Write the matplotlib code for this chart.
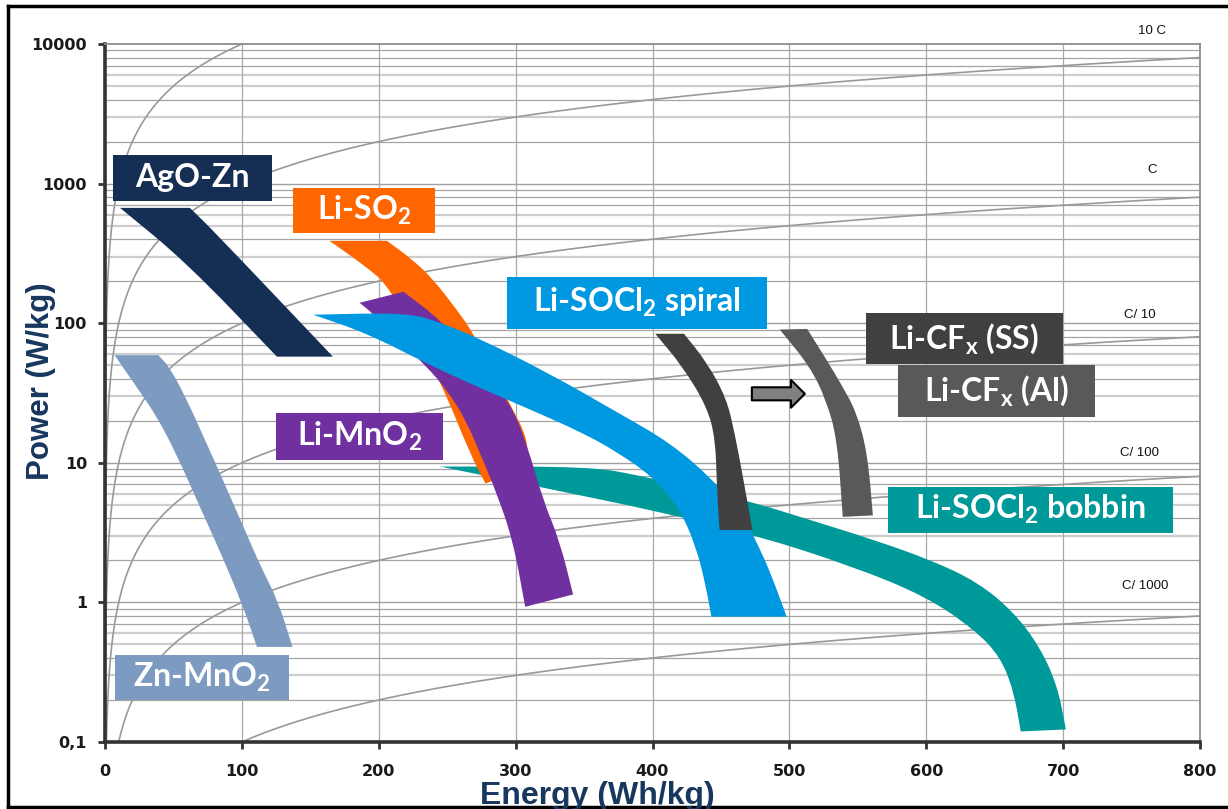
import numpy as np
import matplotlib
matplotlib.use('Agg')
import matplotlib.pyplot as plt
from matplotlib.patches import FancyArrowPatch, ArrowStyle, PathPatch
from matplotlib.path import Path
from matplotlib.lines import Line2D

# ---------------- BAND OUTLINES : (ENERGY Wh/kg, POWER W/kg) ----------------
# each band = upper/right edge and lower/left edge, both from top to bottom
AGOZN_RIGHT = [(62, 670), (80, 451), (166.5, 57.6)]
AGOZN_LEFT = [(11, 670), (59, 275), (125.6, 57.6)]

LISO2_RIGHT = [(206, 389), (225, 284), (240, 205), (257, 125), (269, 85), (283, 46),
               (298, 24), (308, 15.4), (310, 9.4)]
LISO2_LEFT = [(164, 389), (191, 253), (208, 182), (245, 39), (267, 11.4), (278, 7.1)]

LIMNO2_RIGHT = [(218, 168), (245, 106), (270, 55), (296, 27), (308, 13.9), (320, 5.4),
                (332, 2.8), (342, 1.14)]
LIMNO2_LEFT = [(186, 140), (195, 119), (235, 49), (250, 33), (264, 20), (276, 10.5),
               (286, 6.1), (298, 2.8), (307, 0.93)]

SPIRAL_RIGHT = [(152, 115), (221, 119), (245, 101), (272, 79), (324, 44), (375, 22.8),
                (413, 13.9), (444, 7.6), (465, 4.4), (480, 2.27), (490, 1.3), (498, 0.79)]
SPIRAL_LEFT = [(152, 115), (191, 85), (234, 52), (272, 35), (311, 24), (349, 16.4),
               (375, 11.8), (400, 7.95), (419, 4.85), (432, 2.5), (439, 1.3), (443, 0.79)]

BOBBIN_RIGHT = [(245, 9.4), (354, 9.4), (391, 8.1), (435, 6.4), (471, 5.3), (515, 3.9),
                (562, 2.8), (604, 2.0), (638, 1.39), (664, 0.85), (683, 0.48), (696, 0.25),
                (702, 0.123)]
BOBBIN_LEFT = [(245, 9.4), (318, 6.7), (408, 4.4), (477, 3.0), (547, 1.8), (600, 1.1),
               (635, 0.64), (654, 0.41), (664, 0.23), (669, 0.119)]

CFXSS_RIGHT = [(423, 84), (440, 52), (454, 29), (460, 16.4), (466, 8), (473, 3.3)]
CFXSS_LEFT = [(402, 84), (422, 49), (440, 25), (446, 14.6), (447, 6.7), (449, 3.3)]

CFXAL_RIGHT = [(513, 91), (527, 55), (539, 35), (549, 23), (557, 11.8), (561, 4.2)]
CFXAL_LEFT = [(493, 90), (515, 49), (527, 28), (535, 14.6), (539, 4.1)]

ZNMNO2_RIGHT = [(39, 59), (47.5, 48), (60, 28), (72, 15.4), (86, 7.6), (101, 3.5),
                (115, 1.7), (126, 1.05), (137, 0.48)]
ZNMNO2_LEFT = [(7, 59), (23, 35), (38, 21.4), (53, 11.1), (69, 4.9), (86, 2.1),
               (101, 0.93), (111, 0.48)]

# ---------------- CONSTANT C-RATE LINES  P = k * E ----------------
RATES = [100, 10, 1, 0.1, 0.01, 0.001]
RATE_LABELS = ['', '10 C', 'C', 'C/ 10', 'C/ 100', 'C/ 1000']
RATE_LABEL_POS = [None, (765, 12400), (765, 1250), (756, 115), (756, 11.8), (760, 1.3)]

# ---------------- LABEL BOXES ----------------
LABEL_TEXT = ['AgO-Zn', 'Li-SO$_\\mathregular{2}$', 'Li-SOCl$_\\mathregular{2}$ spiral',
              'Li-MnO$_\\mathregular{2}$', 'Li-CF$_\\mathregular{x}$ (SS)',
              'Li-CF$_\\mathregular{x}$ (Al)', 'Li-SOCl$_\\mathregular{2}$ bobbin',
              'Zn-MnO$_\\mathregular{2}$']
LABEL_E = [(5.8, 122), (137.3, 241.1), (293.6, 483.6), (124.9, 246.9),
           (555.9, 699.8), (579.3, 723.2), (572, 780.1), (7.3, 134.4)]
LABEL_P = [(752, 1603), (444, 931), (91.2, 215), (10.5, 22.9),
           (51.2, 118.6), (21.4, 50.4), (3.16, 6.75), (0.201, 0.423)]

C_NAVY = '#142e54'
C_ORANGE = '#ff6600'
C_PURPLE = '#7030a0'
C_BLUE = '#0099e1'
C_TEAL = '#009999'
C_DARK = '#404040'
C_GREY = '#595959'
C_ZN = '#7d9bc1'
LABEL_COLOR = [C_NAVY, C_ORANGE, C_BLUE, C_PURPLE, C_DARK, C_GREY, C_TEAL, C_ZN]

# arrow between the two CFx bands
ARROW_E = (472.6, 511.3)
ARROW_P = 31.2

XTICKS = [0, 100, 200, 300, 400, 500, 600, 700, 800]
YTICKS = [0.1, 1, 10, 100, 1000, 10000]
YTICK_LABELS = ['0,1', '1', '10', '100', '1000', '10000']

# ---------------- FIGURE ----------------
W, H = 1228, 809
fig = plt.figure(figsize=(W / 100, H / 100), dpi=100)
ax = fig.add_axes([105 / W, 1 - 742 / H, 1095 / W, 698 / H])
ax.set_yscale('log')
ax.set_xlim(0, 800)
ax.set_ylim(0.1, 10000)

# grid
LIGHT = [3, 5, 6]
for dec in [0.1, 1, 10, 100, 1000]:
    ax.axhline(dec, color='#a0a0a0', lw=1.0, zorder=0.5)
    for m in range(2, 10):
        if m in LIGHT:
            ax.axhline(dec * m, color='#cdcdcd', lw=1.6, zorder=0.4)
        else:
            ax.axhline(dec * m, color='#a4a4a4', lw=0.9, zorder=0.5)
for x in XTICKS[1:-1]:
    ax.axvline(x, color='#a8a8a8', lw=0.9, zorder=0.5)

# C-rate lines
EE = np.geomspace(1e-4, 800, 4000)
for k, lab, pos in zip(RATES, RATE_LABELS, RATE_LABEL_POS):
    ax.plot(EE, k * EE, color='#999999', lw=1.2, zorder=1)
    if lab:
        ax.text(pos[0], pos[1], lab, fontsize=9.5, family='Liberation Sans',
                ha='center', va='center', clip_on=False, color='#111111')


def smooth_edge(pts):
    # quadratic bezier through mid points, read points act as control points
    verts = [pts[0]]
    codes = [Path.LINETO]
    if len(pts) > 2:
        mid = lambda a, b: ((a[0] + b[0]) / 2, np.sqrt(a[1] * b[1]))
        verts.append(mid(pts[0], pts[1]))
        codes.append(Path.LINETO)
        for i in range(1, len(pts) - 1):
            verts += [pts[i], mid(pts[i], pts[i + 1])]
            codes += [Path.CURVE3, Path.CURVE3]
    verts.append(pts[-1])
    codes.append(Path.LINETO)
    return verts, codes


def band(right, left, color, z):
    v1, c1 = smooth_edge(right)
    v2, c2 = smooth_edge(left[::-1])
    verts = v1 + v2 + [right[0]]
    codes = [Path.MOVETO] + c1[1:] + c2 + [Path.CLOSEPOLY]
    ax.add_patch(PathPatch(Path(verts, codes), fc=color, lw=0, zorder=z))


band(BOBBIN_RIGHT, BOBBIN_LEFT, C_TEAL, 3)
band(LISO2_RIGHT, LISO2_LEFT, C_ORANGE, 3.1)
band(LIMNO2_RIGHT, LIMNO2_LEFT, C_PURPLE, 3.2)
band(SPIRAL_RIGHT, SPIRAL_LEFT, C_BLUE, 3.3)
band(AGOZN_RIGHT, AGOZN_LEFT, C_NAVY, 3.4)
band(CFXSS_RIGHT, CFXSS_LEFT, C_DARK, 3.5)
band(CFXAL_RIGHT, CFXAL_LEFT, C_GREY, 3.5)
band(ZNMNO2_RIGHT, ZNMNO2_LEFT, C_ZN, 3.5)

# label boxes
for txt, (e0, e1), (p0, p1), col in zip(LABEL_TEXT, LABEL_E, LABEL_P, LABEL_COLOR):
    ax.fill([e0, e1, e1, e0], [p0, p0, p1, p1], color=col, lw=0, zorder=6, clip_on=False)
    ax.text((e0 + e1) / 2, np.sqrt(p0 * p1), txt, color='white', fontsize=23,
            family='Lato', weight='bold', ha='center', va='center', zorder=7)

arr = FancyArrowPatch((ARROW_E[0], ARROW_P), (ARROW_E[1], ARROW_P),
                      arrowstyle=ArrowStyle.Simple(head_length=0.5, head_width=1.0, tail_width=0.47),
                      mutation_scale=20, shrinkA=0, shrinkB=0,
                      fc='#808080', ec='black', lw=1.5, zorder=6)
ax.add_patch(arr)

# axes styling
for s in ['left', 'bottom']:
    ax.spines[s].set_color('#333333')
    ax.spines[s].set_linewidth(2.6)
for s in ['top', 'right']:
    ax.spines[s].set_color('#8c8c8c')
    ax.spines[s].set_linewidth(1.3)
ax.set_xticks(XTICKS)
ax.set_xticklabels([str(x) for x in XTICKS], fontsize=11.5, fontweight='bold')
ax.set_yticks(YTICKS)
ax.set_yticklabels(YTICK_LABELS, fontsize=11.5, fontweight='bold')
ax.yaxis.set_minor_locator(matplotlib.ticker.NullLocator())
ax.tick_params(axis='both', which='major', direction='out', length=5, width=2,
               color='#333333', labelcolor='#1a1a1a')
ax.tick_params(axis='x', pad=11)
ax.tick_params(axis='y', pad=8)

fig.text(597 / W, 1 - 796 / H, 'Energy (Wh/kg)', ha='center', va='center', fontsize=23,
         family='Liberation Sans', weight='bold', color='#17375e')
fig.text(41 / W, 1 - 381 / H, 'Power (W/kg)', ha='center', va='center', rotation=90,
         fontsize=22.5, family='Liberation Sans', weight='bold', color='#17375e')

# outer frame
for xs, ys in [([8 / W, 1], [1 - 6 / H, 1 - 6 / H]),
               ([8 / W, 8 / W], [1 - 6 / H, 1 - 807 / H]),
               ([8 / W, 1], [1 - 807 / H, 1 - 807 / H])]:
    fig.add_artist(Line2D(xs, ys, color='black', lw=2.5))

fig.savefig('out.png', dpi=100)
